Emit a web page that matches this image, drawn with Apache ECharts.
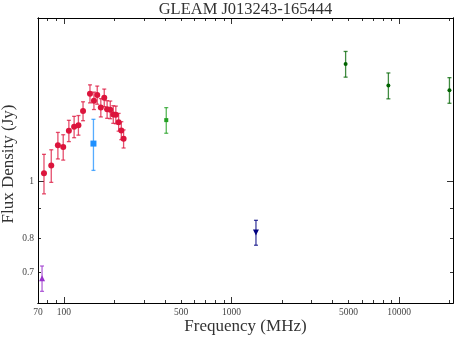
<!DOCTYPE html>
<html>
<head>
<meta charset="utf-8">
<script src="https://cdn.jsdelivr.net/npm/echarts@6/dist/echarts.min.js"></script>
<style>
  html, body { margin: 0; padding: 0; background: #fff; }
  #main { width: 457px; height: 341px; }
</style>
</head>
<body>
<div id="main"></div>
<script>
  // GLEAM 20 sub-band points (MHz, Jy)
  var gleamFreq = [76, 84, 92, 99, 107, 115, 122, 130, 143, 151, 158, 166, 174, 181, 189, 197, 204, 212, 220, 227];
  var gleamFlux = [1.032, 1.064, 1.152, 1.144, 1.220, 1.239, 1.247, 1.318, 1.411, 1.373,
                   1.404, 1.336, 1.389, 1.327, 1.325, 1.301, 1.299, 1.262, 1.221, 1.182];
  var gleamErr  = [0.080, 0.068, 0.060, 0.057, 0.051, 0.052, 0.048, 0.049, 0.050, 0.047,
                   0.050, 0.048, 0.048, 0.046, 0.046, 0.045, 0.045, 0.044, 0.043, 0.042];

  // other surveys
  var vlssFreq = [74],   vlssFlux = [0.683], vlssErr = [0.034];
  var tgssFreq = [150],  tgssFlux = [1.160], tgssErr = [0.116];
  var mrcFreq  = [408],  mrcFlux  = [1.272], mrcErr  = [0.064];
  var nvssFreq = [1400], nvssFlux = [0.818], nvssErr = [0.040];
  var atFreq   = [4800, 8640, 20000];
  var atFlux   = [1.586, 1.457, 1.431];
  var atErr    = [0.080, 0.074, 0.072];

  // ticks
  var xMajor = [100, 1000, 10000];
  var xMinor = [70, 80, 90, 200, 300, 400, 500, 600, 700, 800, 900,
                2000, 3000, 4000, 5000, 6000, 7000, 8000, 9000, 20000];
  var xLabels = [70, 100, 500, 1000, 5000, 10000];
  var yMajor = [1];
  var yMinor = [0.7, 0.8, 0.9];
  var yLabels = [0.7, 0.8, 1];

  var serif = 'Liberation Serif';
  var myChart = echarts.init(document.getElementById('main'));

  function axis(dim, pos, ticks, len, labels) {
    var a = {
      type: 'log',
      logBase: 10,
      position: pos,
      min: dim === 'x' ? 70 : 0.62,
      max: dim === 'x' ? 21000 : 1.9,
      axisLine: { show: true, onZero: false, lineStyle: { color: '#000', width: 1 } },
      axisTick: { show: true, inside: true, length: len, customValues: ticks, lineStyle: { color: '#000', width: 0.8 } },
      axisLabel: { show: false },
      splitLine: { show: false },
      minorTick: { show: false },
      minorSplitLine: { show: false }
    };
    if (labels) {
      a.axisLabel = {
        show: true,
        customValues: labels,
        margin: 4,
        fontFamily: serif,
        fontSize: 9.5,
        color: '#444',
        formatter: function (v) { return String(+(+v).toPrecision(6)); }
      };
    }
    return a;
  }

  var xAxes = [
    axis('x', 'bottom', xMajor, 6, xLabels),
    axis('x', 'bottom', xMinor, 3),
    axis('x', 'top', xMajor, 6),
    axis('x', 'top', xMinor, 3)
  ];
  var yAxes = [
    axis('y', 'left', yMajor, 6, yLabels),
    axis('y', 'left', yMinor, 3),
    axis('y', 'right', yMajor, 6),
    axis('y', 'right', yMinor, 3)
  ];

  function errorBars(freq, flux, err, color) {
    return {
      type: 'custom',
      silent: true,
      z: 1,
      encode: { x: 0, y: [1, 2] },
      data: freq.map(function (f, i) { return [f, flux[i] - err[i], flux[i] + err[i]]; }),
      renderItem: function (params, api) {
        var lo = api.coord([api.value(0), api.value(1)]);
        var hi = api.coord([api.value(0), api.value(2)]);
        var w = 2;
        var style = { stroke: color, lineWidth: 1.3, opacity: 0.75 };
        return {
          type: 'group',
          children: [
            { type: 'line', shape: { x1: lo[0], y1: lo[1], x2: hi[0], y2: hi[1] }, style: style },
            { type: 'line', shape: { x1: lo[0] - w, y1: lo[1], x2: lo[0] + w, y2: lo[1] }, style: style },
            { type: 'line', shape: { x1: hi[0] - w, y1: hi[1], x2: hi[0] + w, y2: hi[1] }, style: style }
          ]
        };
      }
    };
  }

  function points(freq, flux, color, symbol, size) {
    return {
      type: 'scatter',
      z: 2,
      symbol: symbol,
      symbolSize: size,
      itemStyle: { color: color, opacity: 1 },
      data: freq.map(function (f, i) { return [f, flux[i]]; })
    };
  }

  function label(text, x, y, size, rot) {
    return {
      type: 'text',
      x: x,
      y: y,
      rotation: rot || 0,
      style: {
        text: text,
        fontFamily: serif,
        fontSize: size,
        fill: '#333',
        align: 'center',
        verticalAlign: 'middle'
      }
    };
  }

  var option = {
    animation: false,
    backgroundColor: '#fff',
    grid: { left: 38, right: 4, top: 18, bottom: 38, containLabel: false, outerBoundsMode: 'none' },
    xAxis: xAxes,
    yAxis: yAxes,
    graphic: [
      label('GLEAM J013243-165444', 245.5, 10, 16.5),
      label('Frequency (MHz)', 245.5, 327, 17),
      label('Flux Density (Jy)', 9, 164, 17, Math.PI / 2)
    ],
    series: [
      errorBars(gleamFreq, gleamFlux, gleamErr, '#dc143c'),
      points(gleamFreq, gleamFlux, '#dc143c', 'circle', 6),
      errorBars(vlssFreq, vlssFlux, vlssErr, '#9932cc'),
      points(vlssFreq, vlssFlux, '#9932cc', 'triangle', 6),
      errorBars(tgssFreq, tgssFlux, tgssErr, '#1e90ff'),
      points(tgssFreq, tgssFlux, '#1e90ff', 'rect', 6),
      errorBars(mrcFreq, mrcFlux, mrcErr, '#22a022'),
      points(mrcFreq, mrcFlux, '#22a022', 'rect', 4),
      errorBars(nvssFreq, nvssFlux, nvssErr, '#000080'),
      points(nvssFreq, nvssFlux, '#000080', 'path://M0,0 L10,0 L5,9 Z', 6),
      errorBars(atFreq, atFlux, atErr, '#006400'),
      points(atFreq, atFlux, '#006400', 'circle', 4)
    ]
  };

  myChart.setOption(option);
  window.addEventListener('resize', function () { myChart.resize(); });
</script>
</body>
</html>
